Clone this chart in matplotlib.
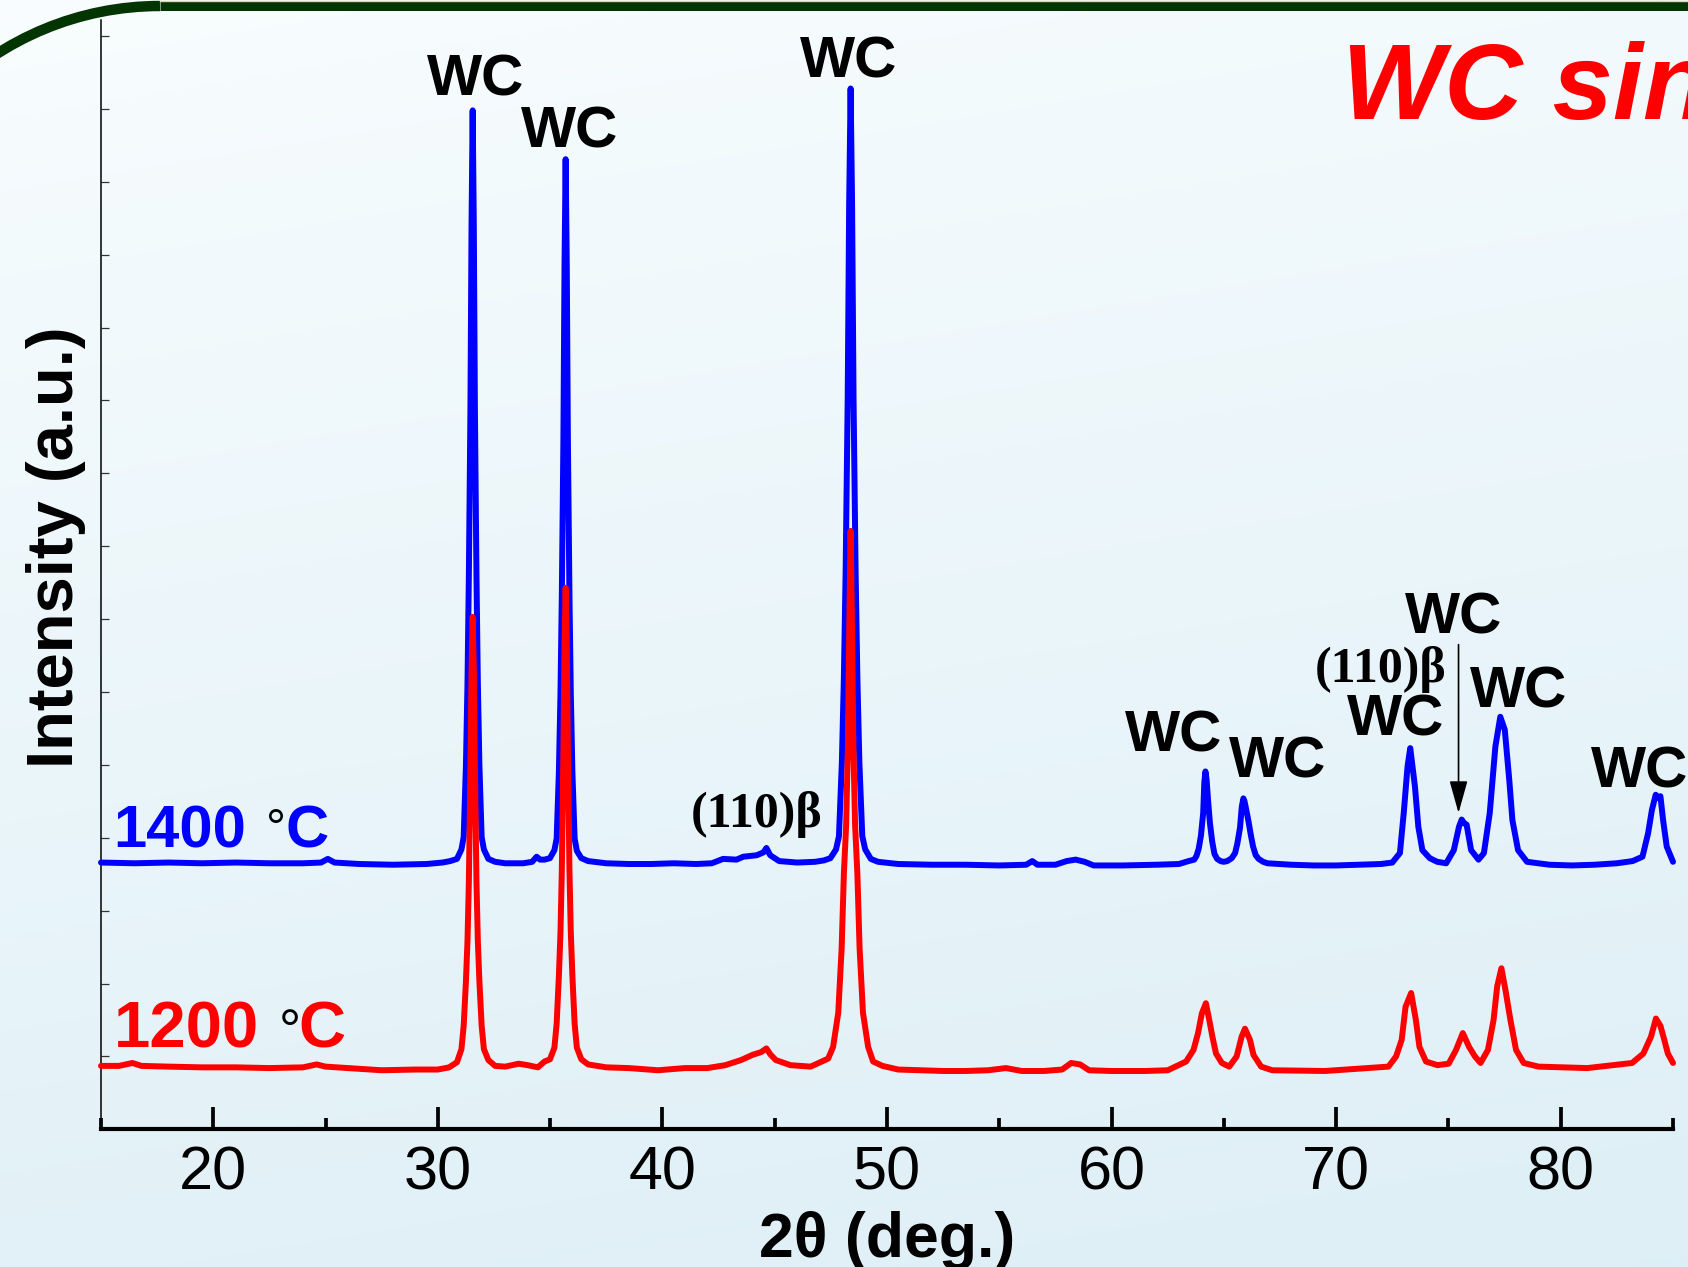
import numpy as np
import matplotlib
matplotlib.use("Agg")
import matplotlib.pyplot as plt
from matplotlib.patches import Arc

# ------------------------------------------------------------------
# Data (2theta in deg, intensity in a.u.)
# ------------------------------------------------------------------
points_1400 = [
    (15.0, 3.66), (16.5, 3.65), (18.0, 3.66), (19.5, 3.65), (21.0, 3.66),
    (22.5, 3.65), (24.0, 3.65), (24.8, 3.66), (25.1, 3.71), (25.4, 3.66),
    (26.5, 3.64), (28.0, 3.63), (29.5, 3.64), (30.2, 3.66), (30.55, 3.68),
    (30.85, 3.71), (31.05, 3.84), (31.15, 4.01), (31.25, 4.99), (31.32, 6.13),
    (31.38, 7.58), (31.45, 9.85), (31.50, 12.43), (31.55, 13.98), (31.60, 12.43),
    (31.65, 9.85), (31.72, 7.58), (31.78, 6.13), (31.85, 4.99), (31.95, 4.01),
    (32.05, 3.84), (32.25, 3.71), (32.55, 3.67), (33.0, 3.65), (33.8, 3.65),
    (34.2, 3.67), (34.4, 3.74), (34.55, 3.70), (34.75, 3.70), (34.99, 3.72),
    (35.19, 3.83), (35.29, 3.99), (35.39, 4.91), (35.46, 5.97), (35.52, 7.32),
    (35.59, 9.45), (35.64, 11.86), (35.69, 13.31), (35.74, 11.86), (35.79, 9.45),
    (35.86, 7.32), (35.92, 5.97), (35.99, 4.91), (36.09, 3.99), (36.19, 3.82),
    (36.39, 3.72), (36.69, 3.68), (37.5, 3.65), (38.5, 3.64), (39.5, 3.64),
    (40.5, 3.65), (41.5, 3.64), (42.2, 3.65), (42.7, 3.71), (43.3, 3.70),
    (43.6, 3.74), (44.2, 3.76), (44.5, 3.80), (44.63, 3.86), (44.8, 3.76),
    (45.2, 3.68), (46.0, 3.66), (46.8, 3.67), (47.2, 3.69), (47.48, 3.72),
    (47.73, 3.84), (47.86, 4.02), (47.99, 5.03), (48.08, 6.20), (48.16, 7.69),
    (48.25, 10.03), (48.315, 12.69), (48.38, 14.28), (48.445, 12.69), (48.51, 10.03),
    (48.60, 7.69), (48.68, 6.20), (48.77, 5.03), (48.90, 4.02), (49.03, 3.84),
    (49.28, 3.71), (49.6, 3.67), (50.5, 3.64), (52.0, 3.63), (53.5, 3.63),
    (55.0, 3.62), (56.2, 3.63), (56.47, 3.68), (56.7, 3.63), (57.5, 3.63),
    (58.0, 3.68), (58.4, 3.70), (58.8, 3.67), (59.2, 3.62), (60.5, 3.62),
    (62.0, 3.63), (63.0, 3.64), (63.43, 3.68), (63.68, 3.70), (63.78, 3.75),
    (63.88, 3.85), (63.98, 4.03), (64.08, 4.34), (64.13, 4.76), (64.18, 4.91),
    (64.23, 4.80), (64.30, 4.50), (64.38, 4.20), (64.48, 3.95), (64.58, 3.78),
    (64.70, 3.71), (64.85, 3.68), (64.99, 3.67), (65.15, 3.68), (65.35, 3.72),
    (65.50, 3.79), (65.60, 3.92), (65.72, 4.14), (65.80, 4.43), (65.87, 4.54),
    (65.92, 4.50), (66.00, 4.38), (66.10, 4.22), (66.20, 4.04), (66.30, 3.88),
    (66.42, 3.76), (66.55, 3.71), (66.75, 3.67), (66.94, 3.65), (68.0, 3.63),
    (69.0, 3.62), (70.0, 3.62), (71.0, 3.63), (72.0, 3.64), (72.5, 3.66),
    (72.84, 3.79), (73.01, 4.34), (73.18, 4.98), (73.30, 5.23), (73.51, 4.70),
    (73.66, 4.15), (73.84, 3.83), (74.17, 3.72), (74.5, 3.67), (74.9, 3.65),
    (75.24, 3.83), (75.47, 4.15), (75.59, 4.25), (75.70, 4.20), (75.81, 4.18),
    (76.01, 3.83), (76.34, 3.70), (76.58, 3.79), (76.84, 4.34), (77.09, 5.25),
    (77.31, 5.66), (77.51, 5.48), (77.71, 4.79), (77.85, 4.24), (78.10, 3.83),
    (78.50, 3.67), (79.5, 3.63), (80.5, 3.62), (81.5, 3.63), (82.5, 3.65),
    (83.2, 3.68), (83.64, 3.74), (83.89, 4.06), (84.06, 4.38), (84.23, 4.59),
    (84.34, 4.55), (84.44, 4.57), (84.56, 4.24), (84.72, 3.88), (84.88, 3.76),
    (85.0, 3.67),
]

points_1200 = [
    (15.0, 0.87), (15.8, 0.87), (16.4, 0.91), (16.8, 0.87), (18.0, 0.86),
    (19.5, 0.85), (21.0, 0.85), (22.5, 0.84), (24.0, 0.85), (24.6, 0.89),
    (25.0, 0.86), (26.0, 0.84), (27.5, 0.81), (29.0, 0.82), (30.0, 0.82),
    (30.5, 0.85), (30.85, 0.92), (31.05, 1.10), (31.15, 1.42), (31.25, 2.03),
    (31.32, 2.59), (31.38, 3.39), (31.45, 4.93), (31.50, 6.29), (31.55, 7.03),
    (31.60, 6.29), (31.65, 4.93), (31.72, 3.39), (31.78, 2.59), (31.85, 2.03),
    (31.95, 1.42), (32.05, 1.10), (32.25, 0.95), (32.55, 0.87), (33.0, 0.86),
    (33.6, 0.90), (34.0, 0.88), (34.45, 0.85), (34.75, 0.93), (34.99, 0.96),
    (35.19, 1.12), (35.29, 1.45), (35.39, 2.11), (35.46, 2.70), (35.52, 3.55),
    (35.59, 5.20), (35.64, 6.64), (35.69, 7.43), (35.74, 6.64), (35.79, 5.20),
    (35.86, 3.55), (35.92, 2.70), (35.99, 2.11), (36.09, 1.45), (36.19, 1.12),
    (36.39, 0.96), (36.69, 0.89), (37.5, 0.85), (38.5, 0.84), (39.8, 0.81),
    (41.0, 0.84), (42.0, 0.84), (42.8, 0.88), (43.5, 0.95), (44.0, 1.02),
    (44.4, 1.06), (44.63, 1.11), (44.8, 1.03), (45.05, 0.95), (45.7, 0.88),
    (46.6, 0.86), (47.1, 0.93), (47.38, 0.97), (47.6, 1.13), (47.83, 1.60),
    (47.98, 2.48), (48.08, 3.51), (48.18, 4.17), (48.26, 5.27), (48.32, 6.89),
    (48.38, 8.21), (48.44, 6.89), (48.50, 5.27), (48.58, 4.17), (48.68, 3.51),
    (48.78, 2.48), (48.93, 1.60), (49.16, 1.13), (49.38, 0.93), (49.8, 0.87),
    (50.5, 0.82), (51.5, 0.81), (52.5, 0.80), (53.5, 0.80), (54.5, 0.81),
    (55.3, 0.84), (56.0, 0.80), (57.0, 0.80), (57.8, 0.82), (58.2, 0.91),
    (58.6, 0.89), (59.0, 0.81), (60.0, 0.80), (61.5, 0.80), (62.5, 0.81),
    (63.32, 0.93), (63.65, 1.09), (63.85, 1.32), (64.02, 1.59), (64.20, 1.73),
    (64.35, 1.50), (64.49, 1.27), (64.65, 1.04), (64.91, 0.91), (65.24, 0.86),
    (65.57, 1.00), (65.79, 1.27), (65.94, 1.38), (66.16, 1.23), (66.32, 1.02),
    (66.66, 0.86), (67.16, 0.81), (69.50, 0.80), (72.33, 0.86), (72.67, 1.00),
    (72.92, 1.23), (73.09, 1.68), (73.34, 1.87), (73.55, 1.50), (73.71, 1.13),
    (74.00, 0.93), (74.51, 0.88), (75.01, 0.90), (75.34, 1.09), (75.64, 1.32),
    (75.92, 1.13), (76.18, 1.00), (76.43, 0.91), (76.76, 1.09), (77.01, 1.50),
    (77.17, 1.96), (77.36, 2.21), (77.54, 1.91), (77.76, 1.50), (78.01, 1.09),
    (78.35, 0.91), (79.01, 0.86), (81.18, 0.84), (83.18, 0.91), (83.68, 1.04),
    (84.02, 1.27), (84.24, 1.52), (84.44, 1.42), (84.61, 1.23), (84.77, 1.04),
    (85.0, 0.91),
]

two_theta_1400, intensity_1400 = [list(v) for v in zip(*points_1400)]
two_theta_1200, intensity_1200 = [list(v) for v in zip(*points_1200)]

series_names = ["1400", "1200"]
series_colors = ["#0000ff", "#ff0000"]
x_major_ticks = [20, 30, 40, 50, 60, 70, 80]
x_minor_ticks = [15, 25, 35, 45, 55, 65, 75, 85]
y_ticks = list(range(1, 16))
title_text = "WC sintered"
x_label = "2\u03b8 (deg.)"
y_label = "Intensity (a.u.)"
wc_label = "WC"
beta_label = "(110)\u03b2"
arrow_2theta = 75.45
arrow_from, arrow_to = 6.65, 4.34

# ------------------------------------------------------------------
# Figure / layout
# ------------------------------------------------------------------
W, H, DPI = 1688, 1267, 100
SANS = ["Liberation Sans", "DejaVu Sans"]
SERIF = ["Liberation Serif", "DejaVu Serif"]
fig = plt.figure(figsize=(W / DPI, H / DPI), dpi=DPI)


def fp(x, y):
    return (x / W, 1 - y / H)


# background gradient + slide border
bg = fig.add_axes([0, 0, 1, 1], zorder=0)
bg.set_xlim(0, W)
bg.set_ylim(H, 0)
bg.axis("off")
gy, gx = np.mgrid[0:1:300j, 0:1:300j]
t = np.clip(0.82 * gy + 0.18 * gx, 0, 1) ** 0.9
c_top = np.array([0.975, 0.992, 0.997])
c_bot = np.array([0.870, 0.937, 0.965])
img = c_top[None, None, :] * (1 - t[..., None]) + c_bot[None, None, :] * t[..., None]
bg.imshow(img, extent=(0, W, H, 0), aspect="auto", interpolation="bilinear")
green = "#033503"
bg.add_patch(Arc((160, 308), 604, 604, theta1=180, theta2=270, color=green, lw=7.5))
bg.plot([160, W + 10], [6, 6], color=green, lw=6.5, solid_capstyle="butt")
bg.plot([160, W + 10], [0.8, 0.8], color="#d8d4b4", lw=1.0)

# main axes
ax = fig.add_axes([101 / W, 1 - 1129.3 / H, 1572 / W, 1109.3 / H], zorder=1)
ax.patch.set_alpha(0)
ax.plot(two_theta_1400, intensity_1400, color=series_colors[0], lw=4.3,
        solid_joinstyle="round", solid_capstyle="round", zorder=3, clip_on=False)
ax.plot(two_theta_1200, intensity_1200, color=series_colors[1], lw=4.3,
        solid_joinstyle="round", solid_capstyle="round", zorder=4, clip_on=False)
ax.set_xlim(15, 85)
ax.set_ylim(0, 15.22)
for s in ["top", "right"]:
    ax.spines[s].set_visible(False)
ax.spines["left"].set_linewidth(1.1)
ax.spines["bottom"].set_linewidth(3.0)
ax.set_xticks(x_major_ticks)
ax.set_xticks(x_minor_ticks, minor=True)
ax.set_xticklabels([str(v) for v in x_major_ticks], fontfamily=SANS, fontsize=44)
ax.tick_params(axis="x", which="major", direction="in", length=16, width=2.7, pad=12)
ax.tick_params(axis="x", which="minor", direction="in", length=8, width=2.7)
ax.set_yticks(y_ticks)
ax.set_yticklabels([])
ax.tick_params(axis="y", which="major", direction="in", length=6, width=0.9, color="#333333")

ax.set_xlabel(x_label, fontfamily=SANS, fontsize=45, fontweight="bold")
ax.xaxis.set_label_coords((887 - 101) / 1572, (1129.3 - 1211) / 1109.3)
ax.set_ylabel(y_label, fontfamily=SANS, fontsize=47, fontweight="bold")
ax.yaxis.set_label_coords((86 - 101) / 1572, (1129.3 - 547) / 1109.3)

# arrow to the (110) beta reflection
ax.annotate("", xy=(arrow_2theta, arrow_to), xytext=(arrow_2theta, arrow_from),
            arrowprops=dict(arrowstyle="-|>,head_length=1.0,head_width=0.28",
                            mutation_scale=20, color="black", lw=1.2,
                            shrinkA=0, shrinkB=0), zorder=5)

# title (cut off at the right, as on the slide)
fig.text(*fp(1342, 119), title_text, color="#ff0000", fontsize=78, fontweight="bold",
         style="italic", fontfamily=SANS, ha="left", va="baseline")

# WC peak labels (centre x, baseline y in pixels)
wc_positions = [(476, 96), (570, 148), (849, 77), (1174, 751), (1278, 777),
                (1396, 736), (1454, 634), (1519, 707), (1640, 787)]
for (px, py) in wc_positions:
    fig.text(*fp(px, py), wc_label, fontsize=42, fontweight="bold", fontfamily=SANS,
             ha="center", va="baseline", color="black")

for (px, py) in [(757, 827), (1381, 682)]:
    fig.text(*fp(px, py), beta_label, fontsize=36, fontweight="bold", fontfamily=SERIF,
             ha="center", va="baseline", color="black")

# temperature labels
temp_layout = [
    # number origin, number size, degree centre, degree size, C origin
    ((113, 847), 43, (276, 844), 36, (285, 847)),
    ((114, 1047), 47, (290, 1048), 40, (298, 1047)),
]
for name, col, (num_xy, nsize, deg_xy, dsize, c_xy) in zip(series_names, series_colors, temp_layout):
    fig.text(*fp(*num_xy), name, color=col, fontsize=nsize, fontweight="bold",
             fontfamily=SANS, ha="left", va="baseline")
    fig.text(*fp(*deg_xy), "\u00b0", color="black", fontsize=dsize,
             fontfamily=SANS, ha="center", va="baseline")
    fig.text(*fp(*c_xy), "C", color=col, fontsize=nsize, fontweight="bold",
             fontfamily=SANS, ha="left", va="baseline")

fig.savefig("out.png", dpi=DPI)
